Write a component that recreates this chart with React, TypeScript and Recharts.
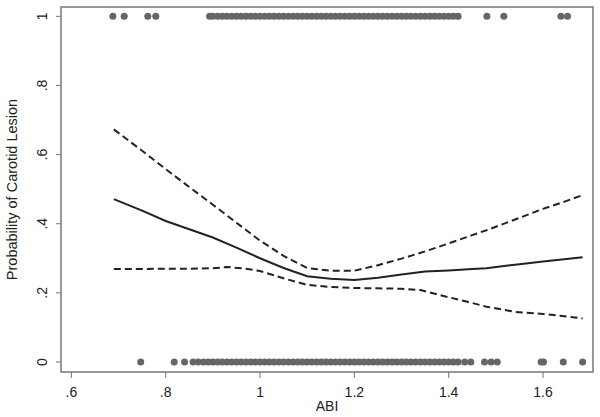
import React from 'react';
import {
  ComposedChart, Line, Scatter, XAxis, YAxis, ReferenceArea
} from 'recharts';

// ABI grid and fitted probability with confidence band
const fitAbi = [0.69, 0.75, 0.8, 0.85, 0.9, 0.95, 1.0, 1.05, 1.1, 1.15, 1.2, 1.25, 1.3, 1.35, 1.4, 1.45, 1.48, 1.55, 1.6, 1.65, 1.684];
const fitProb = [0.471, 0.438, 0.408, 0.384, 0.36, 0.331, 0.3, 0.272, 0.248, 0.241, 0.237, 0.244, 0.253, 0.262, 0.265, 0.269, 0.271, 0.283, 0.291, 0.298, 0.303];
const upperProb = [0.673, 0.611, 0.558, 0.506, 0.455, 0.403, 0.351, 0.307, 0.272, 0.264, 0.264, 0.28, 0.299, 0.32, 0.343, 0.367, 0.381, 0.417, 0.443, 0.466, 0.483];

const lowerAbi = [0.69, 0.75, 0.8, 0.85, 0.9, 0.93, 0.97, 1.0, 1.05, 1.1, 1.15, 1.2, 1.25, 1.3, 1.34, 1.38, 1.44, 1.48, 1.54, 1.6, 1.684];
const lowerProb = [0.269, 0.269, 0.27, 0.27, 0.271, 0.275, 0.27, 0.263, 0.242, 0.223, 0.217, 0.214, 0.213, 0.212, 0.208, 0.194, 0.174, 0.16, 0.145, 0.139, 0.126];

// observed ABI of patients with lesion (y = 1) and without (y = 0)
const lesionAbi = [
  0.688, 0.712, 0.762, 0.779,
  0.893, 0.9, 0.91, 0.92, 0.93, 0.94, 0.95, 0.96, 0.97, 0.98, 0.99, 1.0, 1.01, 1.02, 1.03, 1.04,
  1.05, 1.06, 1.07, 1.08, 1.09, 1.1, 1.11, 1.12, 1.13, 1.14, 1.15, 1.16, 1.17, 1.18, 1.19, 1.2,
  1.21, 1.22, 1.23, 1.24, 1.25, 1.26, 1.27, 1.28, 1.29, 1.3, 1.31, 1.32, 1.33, 1.34, 1.35, 1.36,
  1.37, 1.38, 1.39, 1.4, 1.41, 1.42,
  1.481, 1.517, 1.638, 1.652,
];
const noLesionAbi = [
  0.747, 0.818, 0.84, 0.858,
  0.869, 0.88, 0.89, 0.9, 0.91, 0.92, 0.93, 0.94, 0.95, 0.96, 0.97, 0.98, 0.99, 1.0, 1.01, 1.02,
  1.03, 1.04, 1.05, 1.06, 1.07, 1.08, 1.09, 1.1, 1.11, 1.12, 1.13, 1.14, 1.15, 1.16, 1.17, 1.18,
  1.19, 1.2, 1.21, 1.22, 1.23, 1.24, 1.25, 1.26, 1.27, 1.28, 1.29, 1.3, 1.31, 1.32, 1.33, 1.34,
  1.35, 1.36, 1.37, 1.38, 1.39, 1.4, 1.41, 1.42, 1.434, 1.447,
  1.476, 1.49, 1.503, 1.596, 1.601, 1.643, 1.684,
];

const xTicks = [0.6, 0.8, 1, 1.2, 1.4, 1.6];
const yTicks = [0, 0.2, 0.4, 0.6, 0.8, 1];

const fmt = (v: number) => {
  const s = String(Math.round(v * 10) / 10);
  return s.startsWith('0.') ? s.slice(1) : s;
};

const font = 'Liberation Sans, Arial, sans-serif';

const fitData = fitAbi.map((x, i) => ({ x, y: fitProb[i] }));
const upperData = fitAbi.map((x, i) => ({ x, y: upperProb[i] }));
const lowerData = lowerAbi.map((x, i) => ({ x, y: lowerProb[i] }));
const topRug = lesionAbi.map((x) => ({ x, y: 1 }));
const bottomRug = noLesionAbi.map((x) => ({ x, y: 0 }));

const XTick = (props: any) => {
  const { x, y, payload } = props;
  return (
    <text x={x} y={y + 17} textAnchor="middle" fontSize={14} fontFamily={font} fill="#222">
      {fmt(payload.value)}
    </text>
  );
};

const YTick = (props: any) => {
  const { x, y, payload } = props;
  const bx = x - 7;
  return (
    <text x={bx} y={y} textAnchor="middle" fontSize={14} fontFamily={font} fill="#222"
      transform={`rotate(-90, ${bx}, ${y})`}>
      {fmt(payload.value)}
    </text>
  );
};

const Dot = (props: any) => <circle cx={props.cx} cy={props.cy} r={3.5} fill="#666" />;

export default function App() {
  return (
    <div style={{ position: 'absolute', left: 0, top: 0, background: '#fff' }}>
      <ComposedChart width={600} height={417} margin={{ top: 7, right: 7, bottom: 0, left: 0 }}>
        <XAxis type="number" dataKey="x" domain={[0.578, 1.706]} ticks={xTicks} allowDataOverflow
          axisLine={false} tickSize={6} tickLine={{ stroke: '#777' }} tick={<XTick />} height={45}
          label={{ value: 'ABI', position: 'insideBottom', offset: 6, fontSize: 14, fontFamily: font, fill: '#222' }} />
        <YAxis type="number" dataKey="y" domain={[-0.029, 1.027]} ticks={yTicks} allowDataOverflow
          axisLine={false} tickSize={5} tickLine={{ stroke: '#777' }} tick={<YTick />} width={61}
          label={{ value: 'Probability of Carotid Lesion', angle: -90, position: 'insideLeft', offset: 12,
            fontSize: 14.5, fontFamily: font, fill: '#222', style: { textAnchor: 'middle' } }} />
        <ReferenceArea x1={0.578} x2={1.706} y1={-0.029} y2={1.027} fill="none" stroke="#777" strokeWidth={1.5} />
        <Scatter data={topRug} shape={<Dot />} isAnimationActive={false} />
        <Scatter data={bottomRug} shape={<Dot />} isAnimationActive={false} />
        <Line data={upperData} dataKey="y" type="linear" stroke="#222" strokeWidth={2} strokeDasharray="7 4" dot={false} isAnimationActive={false} />
        <Line data={lowerData} dataKey="y" type="linear" stroke="#222" strokeWidth={2} strokeDasharray="7 4" dot={false} isAnimationActive={false} />
        <Line data={fitData} dataKey="y" type="linear" stroke="#222" strokeWidth={2} dot={false} isAnimationActive={false} />
      </ComposedChart>
    </div>
  );
}
